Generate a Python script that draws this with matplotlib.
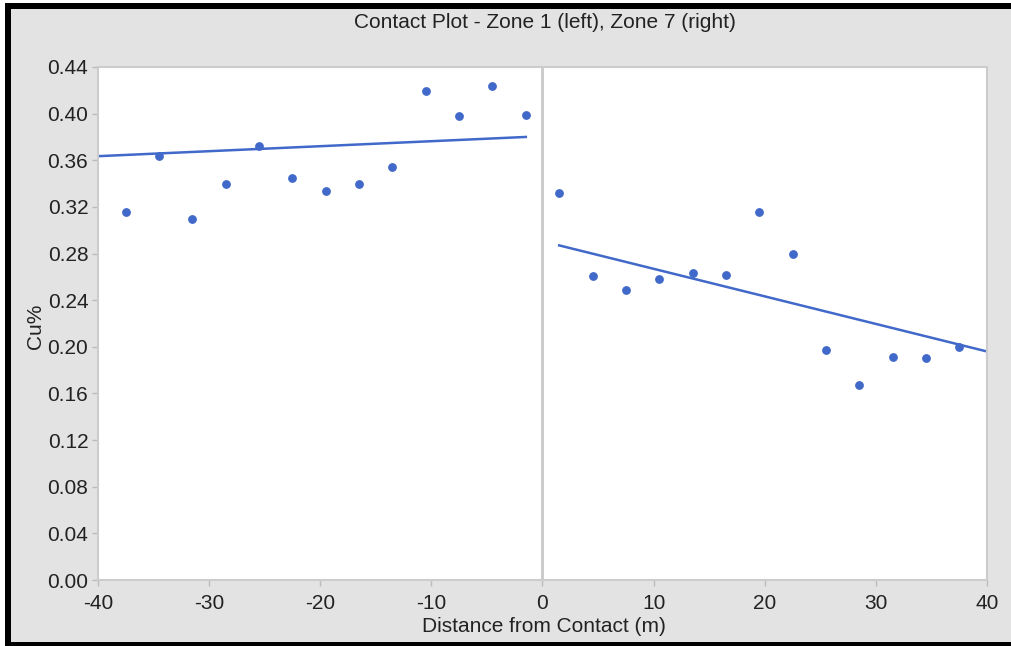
import matplotlib
matplotlib.use("Agg")
import matplotlib.pyplot as plt
from matplotlib.patches import Rectangle

# Data
left_x = [-37.5, -34.5, -31.5, -28.5, -25.5, -22.5, -19.5, -16.5, -13.5, -10.5, -7.5, -4.5, -1.5]
left_y = [0.316, 0.364, 0.310, 0.340, 0.372, 0.345, 0.334, 0.340, 0.354, 0.419, 0.398, 0.424, 0.399]
right_x = [1.5, 4.5, 7.5, 10.5, 13.5, 16.5, 19.5, 22.5, 25.5, 28.5, 31.5, 34.5, 37.5]
right_y = [0.332, 0.261, 0.249, 0.258, 0.263, 0.262, 0.316, 0.280, 0.197, 0.167, 0.191, 0.190, 0.200]
# trend line end points
left_line_x = [-40, -1.5]
left_line_y = [0.3635, 0.380]
right_line_x = [1.5, 40]
right_line_y = [0.287, 0.196]
yticks = [0.00, 0.04, 0.08, 0.12, 0.16, 0.20, 0.24, 0.28, 0.32, 0.36, 0.40, 0.44]
xticks = [-40, -30, -20, -10, 0, 10, 20, 30, 40]

plt.rcParams['font.family'] = ['Liberation Sans', 'DejaVu Sans']

W, H = 1012, 646
fig = plt.figure(figsize=(W / 100, H / 100), dpi=100, facecolor='#e3e3e3')
# outer black frame: top, left and bottom bands, white outside
def band(x0, y0, x1, y1, color):
    fig.patches.append(Rectangle((x0 / W, 1 - y1 / H), (x1 - x0) / W, (y1 - y0) / H,
                                 transform=fig.transFigure, facecolor=color,
                                 edgecolor='none', zorder=-1))
band(0, 0, W + 2, 3, 'white')
band(0, 0, 5, H + 2, 'white')
band(5, 3, W + 2, 9, 'black')
band(5, 3, 11, H + 2, 'black')
band(5, 642, W + 2, H + 2, 'black')

ax = fig.add_axes([98 / W, 1 - 580 / H, (987 - 98) / W, (580 - 67) / H])
ax.set_facecolor('white')

blue = '#4169c9'
ax.axvline(0, color='#c9c9c9', lw=2, zorder=1)
ax.plot(left_x, left_y, 'o', color=blue, ms=5.3, zorder=3)
ax.plot(right_x, right_y, 'o', color=blue, ms=5.3, zorder=3)
ax.plot(left_line_x, left_line_y, '-', color=blue, lw=1.8, zorder=2)
ax.plot(right_line_x, right_line_y, '-', color=blue, lw=1.8, zorder=2)

ax.set_xlim(-40, 40)
ax.set_ylim(0, 0.44)
ax.set_xticks(xticks)
ax.set_yticks(yticks)
ax.set_yticklabels([f"{v:.2f}" for v in yticks])
ax.set_xticklabels([str(v) for v in xticks])
for s in ax.spines.values():
    s.set_color('#cccccc')
    s.set_linewidth(1.5)
ax.tick_params(axis='both', colors='#bbbbbb', labelcolor='#222222', labelsize=15,
               length=4, width=1)
ax.tick_params(axis='y', pad=3)
ax.tick_params(axis='x', pad=6)

fig.text(545 / W, 1 - 23 / H, "Contact Plot - Zone 1 (left), Zone 7 (right)",
         ha='center', va='center', fontsize=15, color='#222222')
fig.text(35 / W, 1 - 326 / H, "Cu%", rotation=90, ha='center', va='center',
         fontsize=15, color='#222222')
fig.text(544 / W, 1 - 627 / H, "Distance from Contact (m)", ha='center', va='center',
         fontsize=15, color='#222222')

fig.savefig('out.png', dpi=100, facecolor=fig.get_facecolor())
